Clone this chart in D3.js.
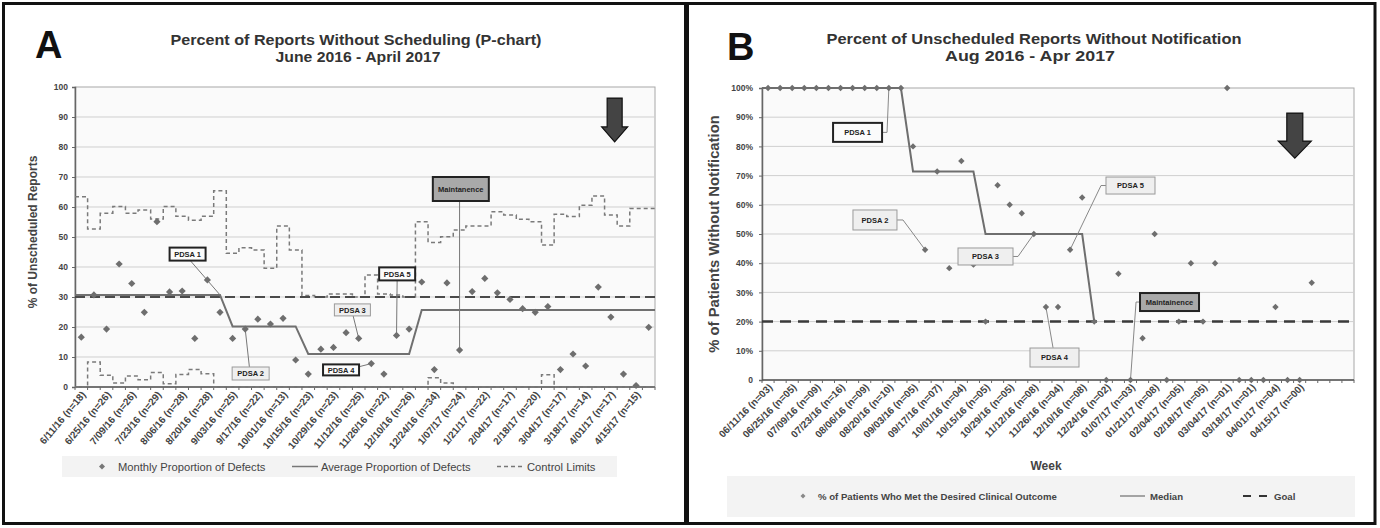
<!DOCTYPE html>
<html><head><meta charset="utf-8">
<script src="https://cdn.jsdelivr.net/npm/d3@7"></script>
<style>body{margin:0;background:#fff}svg{display:block}</style>
</head><body>
<script>
// ---------- DATA ----------
const weeks = d3.range(46); // weekly buckets 6/11/16 ... 4/22/17
const tickLabelsA = ["6/11/16 (n=18)","6/25/16 (n=26)","7/09/16 (n=26)","7/23/16 (n=29)","8/06/16 (n=28)","8/20/16 (n=28)","9/03/16 (n=25)","9/17/16 (n=22)","10/01/16 (n=13)","10/15/16 (n=23)","10/29/16 (n=23)","11/12/16 (n=25)","11/26/16 (n=22)","12/10/16 (n=26)","12/24/16 (n=34)","1/07/17 (n=24)","1/21/17 (n=22)","2/04/17 (n=17)","2/18/17 (n=20)","3/04/17 (n=17)","3/18/17 (n=14)","4/01/17 (n=17)","4/15/17 (n=15)"];
const defectsA = [16.6,30.7,19.3,41,34.5,24.9,55.1,31.7,32,16.2,35.7,24.9,16.2,19.3,22.6,21,22.9,9,4.3,12.6,13.2,18.1,16.2,7.8,4.3,17.2,19.3,35,5.8,34.7,12.3,31.8,36.2,31.4,29.2,26.1,24.9,26.8,5.8,11,7,33.3,23.3,4.3,0.5,19.9];
const averageA = [30.7,30.7,30.7,30.7,30.7,30.7,30.7,30.7,30.7,30.7,30.7,30.7,20.2,20.2,20.2,20.2,20.2,20.2,11,11,11,11,11,11,11,11,11,25.7,25.7,25.7,25.7,25.7,25.7,25.7,25.7,25.7,25.7,25.7,25.7,25.7,25.7,25.7,25.7,25.7,25.7,25.7];
const uclA = [63.4,52.7,57.9,60.2,57.9,59,56,60.2,56.9,55.6,56.9,65.4,44.6,46.4,45.7,39.6,53.7,45.7,30.5,30,31,31,30,37.3,31,30.7,30,55.1,48.2,50.1,52.3,53.7,53.7,58.4,57.3,55.9,55.1,47.3,57.6,56.8,60.6,63.7,57.3,53.7,59.5,59.5];
const lclA = [0,8.3,3.9,1.3,3.7,2.4,4.8,1.1,4.2,5.8,4.4,0,0,0,0,0,0,0,0,0,0,0,0,0,0,0,0,0,3.1,1.3,0,0,0,0,0,0,0,4.1,0,0,0,0,0,0,0,0];
const targetA = 30;
const yTicksA = [0,10,20,30,40,50,60,70,80,90,100];

const categoriesB = d3.range(49);
const tickLabelsB = ["06/11/16 (n=03)","06/25/16 (n=05)","07/09/16 (n=09)","07/23/16 (n=16)","08/06/16 (n=09)","08/20/16 (n=10)","09/03/16 (n=05)","09/17/16 (n=07)","10/01/16 (n=04)","10/15/16 (n=05)","10/29/16 (n=05)","11/12/16 (n=08)","11/26/16 (n=04)","12/10/16 (n=08)","12/24/16 (n=02)","01/07/17 (n=03)","01/21/17 (n=08)","02/04/17 (n=05)","02/18/17 (n=05)","03/04/17 (n=01)","03/18/17 (n=01)","04/01/17 (n=04)","04/15/17 (n=00)"];
const pctB = [100,100,100,100,100,100,100,100,100,100,100,100,80,44.6,71.4,38.3,75,39.5,20,66.7,60,57.1,50,25,25,44.6,62.5,20,0,36.4,0,14.3,50,0,20,40,20,40,100,0,0,0,25,0,0,33.3];
const medianB = [100,100,100,100,100,100,100,100,100,100,100,100,71.4,71.4,71.4,71.4,71.4,71.4,50,50,50,50,50,50,50,50,50,20];
const goalB = 20;
const yTicksB = [0,10,20,30,40,50,60,70,80,90,100];

// ---------- SETUP ----------
const FONT = "'Liberation Sans', Arial, Helvetica, sans-serif";
const W = 1380, H = 528;
const svg = d3.select("body").append("svg").attr("width", W).attr("height", H)
  .style("font-family", FONT);
svg.append("rect").attr("width", W).attr("height", H).attr("fill", "#fff");

// panel frames
svg.append("rect").attr("x", 3.5).attr("y", 3.5).attr("width", 682).attr("height", 520)
  .attr("fill", "none").attr("stroke", "#111").attr("stroke-width", 3);
svg.append("rect").attr("x", 687.5).attr("y", 3.5).attr("width", 687.5).attr("height", 520)
  .attr("fill", "none").attr("stroke", "#111").attr("stroke-width", 3);

function diamond(r) { return `M0,${-r}L${r},0L0,${r}L${-r},0Z`; }

function drawBox(g, cx, cy, w, h, text, style) {
  const st = {
    dark: {fill: "#fbfbfb", stroke: "#222", sw: 2},
    light: {fill: "#efefef", stroke: "#9a9a9a", sw: 1},
    maint: {fill: "#a9a9a9", stroke: "#222", sw: 2}
  }[style];
  g.append("rect").attr("x", cx - w / 2).attr("y", cy - h / 2).attr("width", w).attr("height", h)
    .attr("fill", st.fill).attr("stroke", st.stroke).attr("stroke-width", st.sw);
  g.append("text").attr("x", cx).attr("y", cy + 2.6).attr("text-anchor", "middle")
    .attr("font-size", 7.5).attr("font-weight", "bold").attr("fill", "#222").text(text);
}

function drawArrow(g, cx, top, tip, shaftW, headW, headH) {
  const p = `M${cx - shaftW / 2},${top}L${cx + shaftW / 2},${top}L${cx + shaftW / 2},${tip - headH}L${cx + headW / 2},${tip - headH}L${cx},${tip}L${cx - headW / 2},${tip - headH}L${cx - shaftW / 2},${tip - headH}Z`;
  g.append("path").attr("d", p).attr("fill", "#444").attr("stroke", "#111").attr("stroke-width", 1.2);
}

// ======================= PANEL A =======================
(function () {
  const L = 75, R = 655, T = 87, B = 387;
  const g = svg.append("g");
  const x = d3.scaleBand().domain(weeks).range([L, R]);
  const xc = i => L + x.step() * (i + 0.5);
  const y = d3.scaleLinear().domain([0, 100]).range([B, T]);

  g.append("rect").attr("x", L).attr("y", T).attr("width", R - L).attr("height", B - T)
    .attr("fill", "#fafafa").attr("stroke", "#a8a8a8").attr("stroke-width", 1);
  g.selectAll(".grid").data(yTicksA.filter(d => d > 0 && d < 100)).join("line")
    .attr("x1", L).attr("x2", R).attr("y1", d => y(d)).attr("y2", d => y(d))
    .attr("stroke", "#cfcfcf").attr("stroke-width", 1);

  // y axis
  const ya = g.append("g").attr("transform", `translate(${L},0)`)
    .call(d3.axisLeft(y).tickValues(yTicksA).tickSize(3).tickFormat(d3.format("d")));
  ya.select(".domain").attr("stroke", "#666").attr("stroke-width", 1.5);
  ya.selectAll(".tick line").attr("stroke", "#666");
  ya.selectAll("text").attr("font-size", 8.5).attr("font-weight", "bold").attr("fill", "#444")
    .attr("font-family", FONT).attr("x", -7);

  // x axis line + ticks at category boundaries
  g.append("line").attr("x1", L).attr("x2", R).attr("y1", B).attr("y2", B).attr("stroke", "#555").attr("stroke-width", 1.5);
  g.selectAll(".xt").data(d3.range(47)).join("line")
    .attr("x1", i => L + x.step() * i).attr("x2", i => L + x.step() * i)
    .attr("y1", B).attr("y2", B + 3).attr("stroke", "#666");
  g.selectAll(".xl").data(tickLabelsA).join("text")
    .attr("transform", (d, k) => `translate(${xc(k * 2) + 5},${B + 8}) rotate(-50)`)
    .attr("text-anchor", "end").attr("font-size", 10).attr("font-weight", "bold").attr("fill", "#444")
    .text(d => d);

  // control limits
  const stepLine = d3.line().x(d => d[0]).y(d => y(d[1])).curve(d3.curveStep);
  [uclA, lclA].forEach(arr => {
    const pts = [[L, arr[0]]].concat(arr.map((v, i) => [xc(i), v])).concat([[R, arr[arr.length - 1]]]);
    g.append("path").attr("d", stepLine(pts)).attr("fill", "none")
      .attr("stroke", "#7a7a7a").attr("stroke-width", 1.5).attr("stroke-dasharray", "4,3");
  });
  // target dashed line
  g.append("line").attr("x1", L).attr("x2", R).attr("y1", y(targetA)).attr("y2", y(targetA))
    .attr("stroke", "#4a4a4a").attr("stroke-width", 2).attr("stroke-dasharray", "10,5");
  // average line
  const lin = d3.line().x(d => d[0]).y(d => y(d[1]));
  const avgPts = [[L, averageA[0]]].concat(averageA.map((v, i) => [xc(i), v])).concat([[R, averageA[averageA.length - 1]]]);
  g.append("path").attr("d", lin(avgPts)).attr("fill", "none").attr("stroke", "#707070").attr("stroke-width", 2);

  // annotations leaders
  const ann = [
    {t: "PDSA 1", c: [8.43, 44.3], w: 36, h: 13, s: "dark", l: [[8.63, 42.2], [11, 30.7]]},
    {t: "PDSA 2", c: [13.43, 4.5], w: 37, h: 13, s: "light", l: [[13.33, 6.7], [13, 19.3]]},
    {t: "PDSA 3", c: [21.5, 25.7], w: 36, h: 12, s: "light", l: [[21.56, 23.7], [22, 16.2]]},
    {t: "PDSA 4", c: [20.6, 5.7], w: 36, h: 11, s: "dark", l: [[21.04, 5.7], [23, 7.8]]},
    {t: "PDSA 5", c: [25.05, 37.7], w: 36, h: 13, s: "dark", l: [[25.05, 35.7], [25, 17.2]]},
    {t: "Maintanence", c: [30.1, 66], w: 56, h: 24, s: "maint", l: [[30, 62], [30, 12.3]]}
  ];
  ann.forEach(a => g.append("path").attr("d", d3.line()(a.l.map(p => [xc(p[0]), y(p[1])])))
    .attr("fill", "none").attr("stroke", "#777").attr("stroke-width", 1));

  // points
  g.selectAll(".pt").data(defectsA).join("path")
    .attr("transform", (d, i) => `translate(${xc(i)},${y(d)})`)
    .attr("d", diamond(3.6)).attr("fill", "#6e6e6e");

  ann.forEach(a => drawBox(g, xc(a.c[0]), y(a.c[1]), a.w, a.h, a.t, a.s));
  drawArrow(g, xc(42.3), y(96.3), y(81.7), 15, 26, 15);

  // titles
  g.append("text").attr("x", 35).attr("y", 58).attr("font-size", 38).attr("font-weight", "bold").attr("fill", "#111").text("A");
  g.append("text").attr("x", 356).attr("y", 45).attr("text-anchor", "middle").attr("font-size", 14.5)
    .attr("font-weight", "bold").attr("fill", "#333").attr("textLength", 371).attr("lengthAdjust", "spacingAndGlyphs")
    .text("Percent of Reports Without Scheduling (P-chart)");
  g.append("text").attr("x", 358).attr("y", 62).attr("text-anchor", "middle").attr("font-size", 14.5)
    .attr("font-weight", "bold").attr("fill", "#333").attr("textLength", 165).attr("lengthAdjust", "spacingAndGlyphs")
    .text("June 2016 - April 2017");
  g.append("text").attr("transform", `translate(37,${(T + B) / 2 - 5}) rotate(-90)`).attr("text-anchor", "middle")
    .attr("font-size", 12).attr("font-weight", "bold").attr("fill", "#444").text("% of Unscheduled Reports");

  // legend
  const lg = g.append("g");
  lg.append("rect").attr("x", 62).attr("y", 456).attr("width", 555).attr("height", 21).attr("fill", "#f3f3f3");
  lg.append("path").attr("transform", "translate(102,466.5)").attr("d", diamond(3)).attr("fill", "#777");
  lg.append("text").attr("x", 118).attr("y", 470.5).attr("font-size", 11.2).attr("fill", "#444").text("Monthly Proportion of Defects");
  lg.append("line").attr("x1", 292).attr("x2", 318).attr("y1", 466.5).attr("y2", 466.5).attr("stroke", "#777").attr("stroke-width", 1.5);
  lg.append("text").attr("x", 321).attr("y", 470.5).attr("font-size", 11.2).attr("fill", "#444").text("Average Proportion of Defects");
  lg.append("line").attr("x1", 497).attr("x2", 525).attr("y1", 466.5).attr("y2", 466.5).attr("stroke", "#777").attr("stroke-width", 1.5).attr("stroke-dasharray", "4,3");
  lg.append("text").attr("x", 527).attr("y", 470.5).attr("font-size", 11.2).attr("fill", "#444").text("Control Limits");
})();

// ======================= PANEL B =======================
(function () {
  const L = 762, R = 1354, T = 88, B = 380;
  const g = svg.append("g");
  const x = d3.scaleBand().domain(categoriesB).range([L, R]);
  const xc = i => L + x.step() * (i + 0.5);
  const y = d3.scaleLinear().domain([0, 100]).range([B, T]);

  g.append("rect").attr("x", L).attr("y", T).attr("width", R - L).attr("height", B - T)
    .attr("fill", "#fafafa").attr("stroke", "#a8a8a8").attr("stroke-width", 1);
  g.selectAll(".grid").data(yTicksB.filter(d => d > 0 && d < 100)).join("line")
    .attr("x1", L).attr("x2", R).attr("y1", d => y(d)).attr("y2", d => y(d))
    .attr("stroke", "#cfcfcf").attr("stroke-width", 1);

  const ya = g.append("g").attr("transform", `translate(${L},0)`)
    .call(d3.axisLeft(y).tickValues(yTicksB).tickSize(3).tickFormat(d => d === 0 ? "0" : d + "%"));
  ya.select(".domain").attr("stroke", "#666").attr("stroke-width", 1.5);
  ya.selectAll(".tick line").attr("stroke", "#666");
  ya.selectAll("text").attr("font-size", 8.5).attr("font-weight", "bold").attr("fill", "#444")
    .attr("font-family", FONT).attr("x", -9);

  g.append("line").attr("x1", L).attr("x2", R).attr("y1", B).attr("y2", B).attr("stroke", "#555").attr("stroke-width", 1.5);
  g.selectAll(".xt").data(d3.range(50)).join("line")
    .attr("x1", i => L + x.step() * i).attr("x2", i => L + x.step() * i)
    .attr("y1", B).attr("y2", B + 3).attr("stroke", "#666");
  g.selectAll(".xl").data(tickLabelsB).join("text")
    .attr("transform", (d, k) => `translate(${xc(k * 2) + 5},${B + 8}) rotate(-45)`)
    .attr("text-anchor", "end").attr("font-size", 10).attr("font-weight", "bold").attr("fill", "#444")
    .text(d => d);

  // goal
  g.append("line").attr("x1", L).attr("x2", R).attr("y1", y(goalB)).attr("y2", y(goalB))
    .attr("stroke", "#3a3a3a").attr("stroke-width", 2.5).attr("stroke-dasharray", "11,7");
  // median
  const lin = d3.line().x(d => d[0]).y(d => y(d[1]));
  const medPts = [[L, medianB[0]]].concat(medianB.map((v, i) => [xc(i), v]));
  g.append("path").attr("d", lin(medPts)).attr("fill", "none").attr("stroke", "#6e6e6e").attr("stroke-width", 2);

  const ann = [
    {t: "PDSA 1", c: [7.41, 84.8], w: 49, h: 19, s: "dark", l: [[9.43, 84.8], [9.85, 84.8], [10, 100]]},
    {t: "PDSA 2", c: [8.85, 54.8], w: 44, h: 20, s: "light", l: [[10.68, 54.8], [11.17, 54.8], [13, 44.6]]},
    {t: "PDSA 3", c: [18.0, 42.3], w: 55, h: 17, s: "light", l: [[20.28, 42.3], [20.69, 42.3], [22, 50]]},
    {t: "PDSA 4", c: [23.71, 7.7], w: 49, h: 19, s: "light", l: [[23.59, 11.0], [23, 25]]},
    {t: "PDSA 5", c: [30.0, 66.6], w: 49, h: 17, s: "light", l: [[28.0, 66.6], [27.56, 66.6], [25, 44.6]]},
    {t: "Maintainence", c: [33.23, 26.7], w: 59, h: 18, s: "maint", l: [[30.79, 26.7], [30.46, 26.7], [30, 0]]}
  ];
  ann.forEach(a => g.append("path").attr("d", d3.line()(a.l.map(p => [xc(p[0]), y(p[1])])))
    .attr("fill", "none").attr("stroke", "#888").attr("stroke-width", 1));

  g.selectAll(".pt").data(pctB).join("path")
    .attr("transform", (d, i) => `translate(${xc(i)},${y(d)})`)
    .attr("d", diamond(3.2)).attr("fill", "#6e6e6e");

  ann.forEach(a => drawBox(g, xc(a.c[0]), y(a.c[1]), a.w, a.h, a.t, a.s));
  drawArrow(g, xc(43.6), y(91.4), y(76), 16, 33, 17);

  g.append("text").attr("x", 727).attr("y", 60).attr("font-size", 38).attr("font-weight", "bold").attr("fill", "#111").text("B");
  g.append("text").attr("x", 1034).attr("y", 44).attr("text-anchor", "middle").attr("font-size", 14.5)
    .attr("font-weight", "bold").attr("fill", "#333").attr("textLength", 415).attr("lengthAdjust", "spacingAndGlyphs")
    .text("Percent of Unscheduled Reports Without Notification");
  g.append("text").attr("x", 1030).attr("y", 61).attr("text-anchor", "middle").attr("font-size", 14.5)
    .attr("font-weight", "bold").attr("fill", "#333").attr("textLength", 170).attr("lengthAdjust", "spacingAndGlyphs")
    .text("Aug 2016 - Apr 2017");
  g.append("text").attr("transform", `translate(719,${(T + B) / 2}) rotate(-90)`).attr("text-anchor", "middle")
    .attr("font-size", 14.8).attr("font-weight", "bold").attr("fill", "#444").text("% of Patients Without Notification");
  g.append("text").attr("x", 1046).attr("y", 470).attr("text-anchor", "middle").attr("font-size", 12)
    .attr("font-weight", "bold").attr("fill", "#444").text("Week");

  const lg = g.append("g");
  lg.append("rect").attr("x", 727).attr("y", 476).attr("width", 628).attr("height", 41).attr("fill", "#f3f3f3");
  lg.append("path").attr("transform", "translate(803,496)").attr("d", diamond(2.5)).attr("fill", "#888");
  lg.append("text").attr("x", 818).attr("y", 499.5).attr("font-size", 9.6).attr("font-weight", "bold").attr("fill", "#444")
    .text("% of Patients Who Met the Desired Clinical Outcome");
  lg.append("line").attr("x1", 1120).attr("x2", 1145).attr("y1", 496).attr("y2", 496).attr("stroke", "#888").attr("stroke-width", 1.5);
  lg.append("text").attr("x", 1150).attr("y", 499.5).attr("font-size", 9.6).attr("font-weight", "bold").attr("fill", "#444").text("Median");
  lg.append("line").attr("x1", 1243).attr("x2", 1270).attr("y1", 496).attr("y2", 496).attr("stroke", "#333").attr("stroke-width", 2).attr("stroke-dasharray", "8,8");
  lg.append("text").attr("x", 1274).attr("y", 499.5).attr("font-size", 9.6).attr("font-weight", "bold").attr("fill", "#444").text("Goal");
})();
</script>
</body></html>
